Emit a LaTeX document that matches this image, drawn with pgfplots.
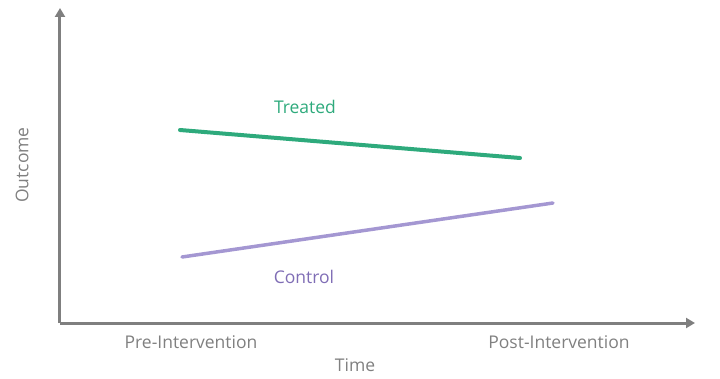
\documentclass[border=0pt]{standalone}
\usepackage{pgfplots}
\pgfplotsset{compat=1.18}
\usetikzlibrary{arrows.meta}
\usepackage{fontspec}
\setmainfont{Open Sans}
\definecolor{axgray}{HTML}{7F7F7F}
\definecolor{txtgray}{HTML}{808080}
\definecolor{treat}{HTML}{2EAA7C}
\definecolor{ctrl}{HTML}{A497D2}
\definecolor{ctrltxt}{HTML}{7F6DB5}
\begin{document}
\begin{tikzpicture}[x=1pt,y=1pt]
\begin{axis}[
  scale only axis, width=635pt, height=315pt,
  xmin=60, xmax=695, ymin=55, ymax=370,
  axis lines=left,
  axis line style={axgray, line width=3pt, -{Triangle[width=10pt,length=9pt]}},
  xtick={191,559}, xticklabels={Pre-Intervention,Post-Intervention},
  ytick=\empty,
  major tick length=0pt,
  tick label style={font=\fontsize{17.5}{19}\selectfont, text=txtgray},
  xticklabel style={yshift=-9pt},
  clip=false,
]
\path[use as bounding box] (axis cs:0,0) rectangle (axis cs:720,378);
\addplot[treat, line width=4pt, line cap=round] coordinates {(180,248) (520,220)};
\addplot[ctrl, line width=3.5pt, line cap=round] coordinates {(182,121) (553,175)};
\node[text=treat, font=\fontsize{17.5}{19}\selectfont] at (axis cs:305,271) {Treated};
\node[text=ctrltxt, font=\fontsize{17.5}{19}\selectfont] at (axis cs:304,101) {Control};
\node[text=txtgray, font=\fontsize{17.5}{19}\selectfont] at (axis cs:355,13) {Time};
\node[text=txtgray, font=\fontsize{17.5}{19}\selectfont, rotate=90] at (axis cs:22,213) {Outcome};
\end{axis}
\end{tikzpicture}
\end{document}
